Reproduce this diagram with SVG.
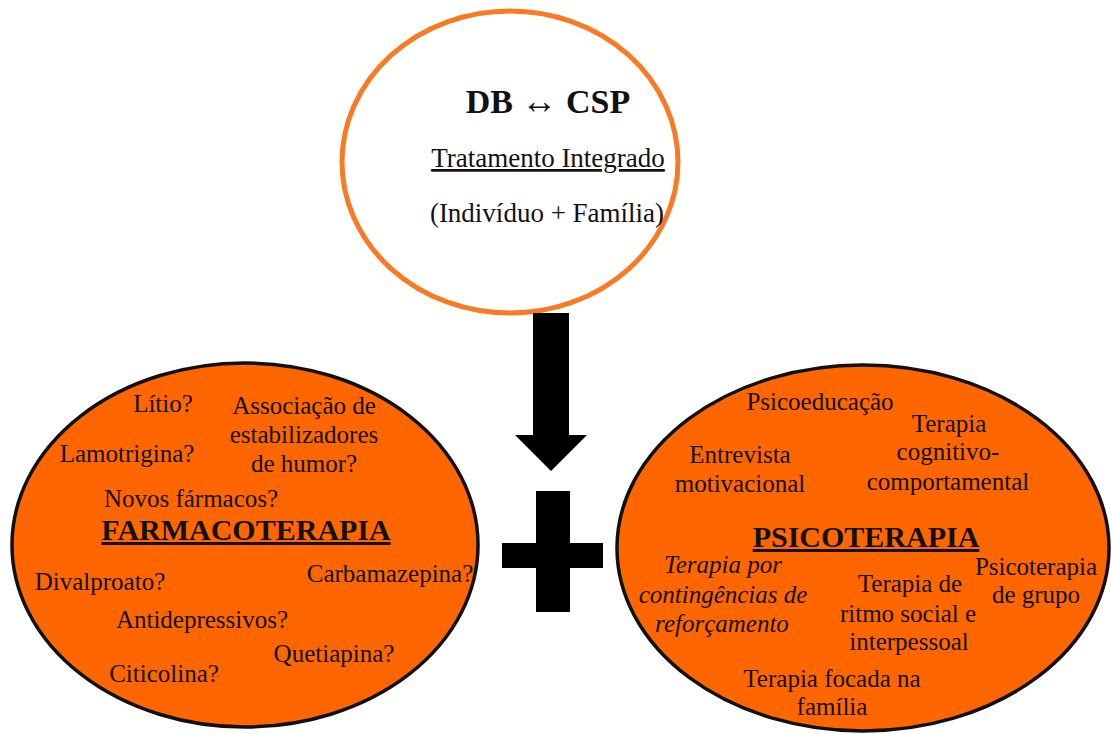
<svg xmlns="http://www.w3.org/2000/svg" width="1112" height="734" viewBox="0 0 1112 734">
<style>
.t{font-family:"Liberation Serif","Times New Roman",serif;font-size:25px;fill:#111;text-anchor:middle}
.it{font-style:italic}
.hb{font-weight:bold;font-size:30px;text-decoration:underline}
.sub{font-size:27px}
.title{font-weight:bold;font-size:34px}
.arr{font-weight:normal;font-size:36px}
.orange{fill:#FF6600;stroke:#111;stroke-width:3.5}
</style>
<rect width="1112" height="734" fill="#fff"/>
<g id="top-node">
<ellipse cx="510" cy="162" rx="168" ry="151" fill="#fff" stroke="#F97A22" stroke-width="5"/>
<text class="t title" x="548" y="113">DB <tspan class="arr">↔</tspan> CSP</text>
<text class="t sub" x="548" y="167" text-decoration="underline">Tratamento Integrado</text>
<text class="t sub" x="547" y="222">(Indivíduo + Família)</text>
</g>
<g id="connectors">
<path d="M533 313 H569 V435 H587 L551 471 L515 435 H533 Z" fill="#000"/>
</g>
<g id="plus">
<path d="M536 491 H570 V543 H603 V568 H570 V612 H536 V568 H502 V543 H536 Z" fill="#000"/>
</g>
<g id="farmacoterapia">
<ellipse class="orange" cx="245" cy="545" rx="233" ry="182"/>
<text class="t" x="163" y="412">Lítio?</text>
<text class="t" x="304" y="414">Associação de</text>
<text class="t" x="304" y="443">estabilizadores</text>
<text class="t" x="304" y="472">de humor?</text>
<text class="t" x="127" y="462">Lamotrigina?</text>
<text class="t" x="191" y="507">Novos fármacos?</text>
<text class="t hb" x="246" y="540">FARMACOTERAPIA</text>
<text class="t" x="100" y="590">Divalproato?</text>
<text class="t" x="390" y="582">Carbamazepina?</text>
<text class="t" x="202" y="628">Antidepressivos?</text>
<text class="t" x="334" y="662">Quetiapina?</text>
<text class="t" x="164" y="682">Citicolina?</text>
</g>
<g id="psicoterapia">
<ellipse class="orange" cx="863" cy="548" rx="246" ry="183"/>
<text class="t" x="820" y="410">Psicoeducação</text>
<text class="t" x="949" y="432">Terapia</text>
<text class="t" x="948" y="460">cognitivo-</text>
<text class="t" x="948" y="490">comportamental</text>
<text class="t" x="740" y="463">Entrevista</text>
<text class="t" x="740" y="492">motivacional</text>
<text class="t hb" x="866" y="547">PSICOTERAPIA</text>
<text class="t it" x="723" y="573">Terapia por</text>
<text class="t it" x="723" y="603">contingências de</text>
<text class="t it" x="722" y="632">reforçamento</text>
<text class="t" x="910" y="592">Terapia de</text>
<text class="t" x="908" y="622">ritmo social e</text>
<text class="t" x="909" y="650">interpessoal</text>
<text class="t" x="1036" y="575">Psicoterapia</text>
<text class="t" x="1036" y="603">de grupo</text>
<text class="t" x="832" y="687">Terapia focada na</text>
<text class="t" x="832" y="715">família</text>
</g>
</svg>
